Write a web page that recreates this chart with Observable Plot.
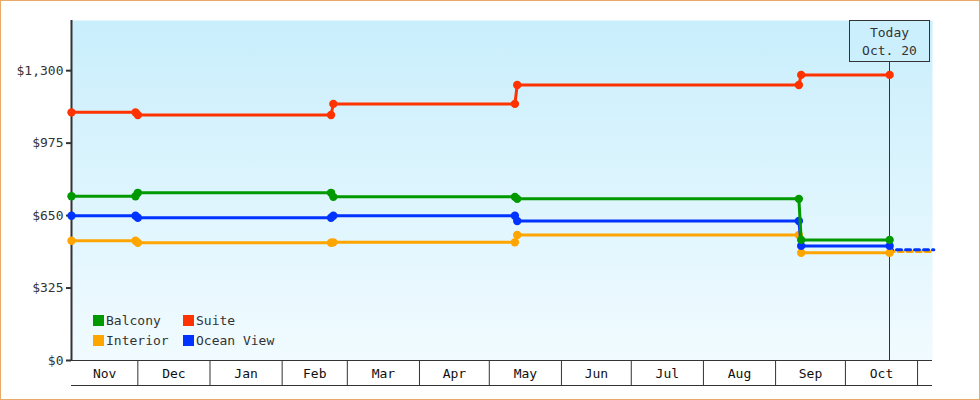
<!DOCTYPE html>
<html><head><meta charset="utf-8">
<script src="https://cdn.jsdelivr.net/npm/d3@7"></script>
<script src="https://cdn.jsdelivr.net/npm/@observablehq/plot@0.6"></script>
<style>
html,body{margin:0;padding:0;background:#fff;}
#chart{width:978px;height:398px;border:1px solid #e8aa66;position:relative;overflow:hidden;background:#fff;}
#chart svg{position:absolute;left:-1px;top:-1px;max-width:none !important;width:980px;height:400px;}
</style></head><body><div id="chart"></div>
<script>
// ---- data ----
const obsDates = ["2012-11-02T12:00Z","2012-11-30","2012-12-01","2013-02-22","2013-02-23","2013-05-12","2013-05-13","2013-09-11","2013-09-12","2013-10-20"];
const balcony   = [737, 737, 752, 752, 734, 734, 725, 725, 541, 541];
const suite     = [1113,1113,1101,1101,1151,1151,1236,1236,1281,1281];
const interior  = [537, 537, 528, 528, 530, 530, 563, 563, 483, 483];
const oceanView = [649, 649, 640, 640, 649, 649, 626, 626, 514, 514];
const forecastDates = ["2013-10-20","2013-10-21","2013-11-08"];
const interiorForecast  = [483, 489, 489];
const oceanViewForecast = [514, 497, 497];
const seriesNames = ["Balcony","Suite","Interior","Ocean View"];
const seriesColors = ["#009900","#ff3300","#ffa500","#0033ff"];
const monthStarts = ["2012-11-01","2012-12-01","2013-01-01","2013-02-01","2013-03-01","2013-04-01","2013-05-01","2013-06-01","2013-07-01","2013-08-01","2013-09-01","2013-10-01","2013-11-01"];
const monthLabels = ["Nov","Dec","Jan","Feb","Mar","Apr","May","Jun","Jul","Aug","Sep","Oct"];
const yTicks = [0, 325, 650, 975, 1300];
const todayDate = "2013-10-20";
const todayLabel = ["Today", "Oct. 20"];

// ---- layout ----
const W = 980, H = 400, mt = 20, mb = 40, ml = 71, mr = 48;
const yMax = 1525;
const xStart = new Date("2012-11-02T12:00Z"), xEnd = new Date("2013-11-07T10:00Z");
const bandPx = 25;
const yBand = -bandPx * yMax / (H - mt - mb);
const font = "DejaVu Sans Mono, monospace";

const parse = s => new Date(s.includes("T") ? s : s + "T00:00Z");
const mk = (vals, dates) => vals.map((v, i) => ({date: parse(dates[i]), value: v}));
const colorOf = n => seriesColors[seriesNames.indexOf(n)];

const boundaries = monthStarts.slice(1).map(parse);
const mids = [], labelByTime = new Map();
monthLabels.forEach((lab, i) => {
  const a = Math.max(+parse(monthStarts[i]), +xStart);
  const b = Math.min(+parse(monthStarts[i + 1]), +xEnd);
  const m = new Date((a + b) / 2);
  mids.push(m); labelByTime.set(+m, lab);
});

const drawOrder = [["Interior", interior], ["Ocean View", oceanView], ["Balcony", balcony], ["Suite", suite]];
const seriesMarks = [];
seriesMarks.push(Plot.line(mk(interiorForecast, forecastDates), {x: "date", y: "value", stroke: colorOf("Interior"), strokeWidth: 3, strokeDasharray: "5,4"}));
seriesMarks.push(Plot.line(mk(oceanViewForecast, forecastDates), {x: "date", y: "value", stroke: colorOf("Ocean View"), strokeWidth: 3, strokeDasharray: "5,4"}));
for (const [name, vals] of drawOrder) {
  const d = mk(vals, obsDates);
  seriesMarks.push(Plot.line(d, {x: "date", y: "value", stroke: colorOf(name), strokeWidth: 3}));
  seriesMarks.push(Plot.dot(d, {x: "date", y: "value", r: 4.2, fill: colorOf(name), stroke: "none"}));
}

function todayMark(index, scales, values, dims) {
  const g = d3.create("svg:g");
  const cx = Math.round(scales.x(parse(todayDate))) + 0.5;
  const boxW = 80, boxH = 41, top = dims.marginTop + 0.5;
  g.append("line").attr("x1", cx).attr("x2", cx).attr("y1", top + boxH).attr("y2", scales.y(0))
    .attr("stroke", "#333").attr("stroke-width", 1);
  g.append("rect").attr("x", cx - boxW / 2).attr("y", top).attr("width", boxW).attr("height", boxH)
    .attr("fill", "#cbeffd").attr("stroke", "#333").attr("stroke-width", 1);
  todayLabel.forEach((t, i) => {
    g.append("text").attr("x", cx).attr("y", top + 16 + i * 18).attr("text-anchor", "middle")
      .attr("font-family", font).attr("font-size", 13).attr("fill", "#333").text(t);
  });
  return g.node();
}

function legendMark(index, scales, values, dims) {
  const g = d3.create("svg:g").attr("text-anchor", "start");
  const x0 = dims.marginLeft + 22, y0 = dims.height - dims.marginBottom - 45;
  const order = ["Balcony", "Suite", "Interior", "Ocean View"];
  order.forEach((n, i) => {
    const col = i % 2, row = Math.floor(i / 2);
    const x = x0 + col * 90, y = y0 + row * 20;
    g.append("rect").attr("x", x).attr("y", y).attr("width", 11).attr("height", 11).attr("fill", colorOf(n));
    g.append("text").attr("x", x + 13).attr("y", y + 10).attr("text-anchor", "start").attr("font-family", font).attr("font-size", 13)
      .attr("fill", "#333").text(n);
  });
  return g.node();
}

const svg = Plot.plot({
  width: W, height: H,
  marginTop: mt, marginBottom: mb, marginLeft: ml, marginRight: mr,
  style: {fontFamily: font, fontSize: "13px", color: "#333", background: "transparent", overflow: "visible", maxWidth: "none"},
  x: {type: "utc", domain: [xStart, xEnd]},
  y: {domain: [0, yMax]},
  marks: [
    Plot.frame({fill: "url(#bgGrad)", stroke: null}),
    Plot.ruleX(boundaries, {y1: 0, y2: yBand, stroke: "#333", strokeWidth: 1}),
    Plot.ruleY([0, yBand], {stroke: "#333", strokeWidth: 1}),
    Plot.axisX(mids, {tickSize: 0, tickPadding: 8, tickFormat: d => labelByTime.get(+d), label: null, fill: "#111", fontSize: 13}),
    Plot.axisY(yTicks, {tickSize: 5, tickPadding: 3, tickFormat: d3.format("$,"), label: null, stroke: "#333", strokeWidth: 2, fill: "#333", fontSize: 13}),
    Plot.ruleX([xStart], {stroke: "#333", strokeWidth: 2}),
    todayMark,
    ...seriesMarks,
    legendMark
  ]
});

const defs = d3.select(svg).insert("defs", ":first-child");
const grad = defs.append("linearGradient").attr("id", "bgGrad").attr("x1", 0).attr("y1", 0).attr("x2", 0).attr("y2", 1);
grad.append("stop").attr("offset", "0%").attr("stop-color", "#c9eefc");
grad.append("stop").attr("offset", "100%").attr("stop-color", "#f1fbff");
document.getElementById("chart").appendChild(svg);
</script></body></html>
